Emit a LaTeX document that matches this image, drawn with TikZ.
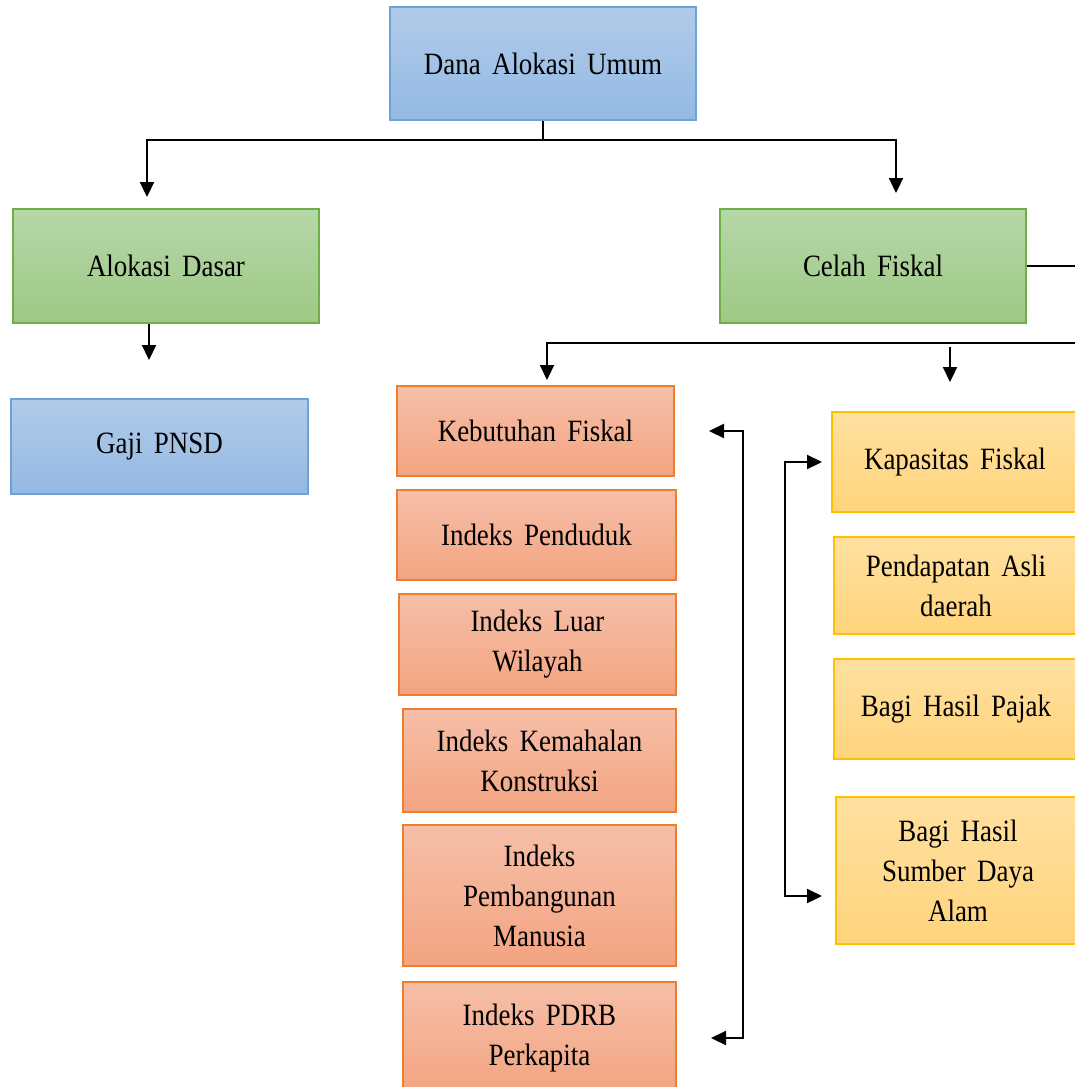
\documentclass[tikz,border=0pt]{standalone}
\usepackage{fontspec}
\setmainfont[FakeStretch=0.87]{Liberation Serif}
\usetikzlibrary{arrows.meta}
\definecolor{biruA}{HTML}{B1CBE9}
\definecolor{biruB}{HTML}{94B9E3}
\definecolor{biruG}{HTML}{6FA0D8}
\definecolor{hijauA}{HTML}{B6D7A8}
\definecolor{hijauB}{HTML}{9DC985}
\definecolor{hijauG}{HTML}{72AE48}
\definecolor{oranyeA}{HTML}{F6BFA8}
\definecolor{oranyeB}{HTML}{F3A481}
\definecolor{oranyeG}{HTML}{ED7D31}
\definecolor{kuningA}{HTML}{FFE0A0}
\definecolor{kuningB}{HTML}{FFD47C}
\definecolor{kuningG}{HTML}{FFC000}
\newcommand{\teks}{\fontsize{31}{40}\selectfont\spaceskip=0.36em plus 0.1em}

\begin{document}
\begin{tikzpicture}[x=1pt,y=-1pt,
    kotak/.style = {rectangle, line width=2pt, align=center, font=\teks, inner sep=2pt},
    biru/.style = {kotak, draw=biruG, top color=biruA, bottom color=biruB},
    hijau/.style = {kotak, draw=hijauG, top color=hijauA, bottom color=hijauB},
    oranye/.style = {kotak, draw=oranyeG, top color=oranyeA, bottom color=oranyeB},
    kuning/.style = {kotak, draw=kuningG, top color=kuningA, bottom color=kuningB},
    garis/.style = {line width=2.2pt},
    panah/.style = {garis, -{Triangle[width=14pt,length=15pt]}},
    dua/.style = {garis, {Triangle[width=14pt,length=15pt]}-{Triangle[width=14pt,length=15pt]}}]
  \fill[white] (0,0) rectangle (1075,1087);
  \useasboundingbox (0,0) rectangle (1075,1087);
  \clip (0,0) rectangle (1075,1087);

  % kotak-kotak
  \node[biru, minimum width=306, minimum height=113] (dau) at (543,63.5) {Dana Alokasi Umum};
  \node[hijau, minimum width=306, minimum height=114] (ad) at (166,266) {Alokasi Dasar};
  \node[biru, minimum width=297, minimum height=95] (gaji) at (159.5,446.5) {Gaji PNSD};
  \node[hijau, minimum width=306, minimum height=114] (cf) at (873,266) {Celah Fiskal};

  \node[oranye, minimum width=277, minimum height=90] (kf) at (535.5,431) {Kebutuhan Fiskal};
  \node[oranye, minimum width=279, minimum height=90] (ip) at (536.5,535) {Indeks Penduduk};
  \node[oranye, minimum width=277, minimum height=101] (ilw) at (537.5,644.5) {Indeks Luar\\Wilayah};
  \node[oranye, minimum width=273, minimum height=103] (ikk) at (539.5,760.5) {Indeks Kemahalan\\Konstruksi};
  \node[oranye, minimum width=273, minimum height=141] (ipm) at (539.5,895.5) {Indeks\\Pembangunan\\Manusia};
  \node[oranye, minimum width=273, minimum height=112] (pdrb) at (539.5,1038) {Indeks PDRB\\Perkapita};

  \node[kuning, minimum width=246, minimum height=100] (kap) at (955,462) {Kapasitas Fiskal};
  \node[kuning, minimum width=244, minimum height=97] (pad) at (956,585.5) {Pendapatan Asli\\daerah};
  \node[kuning, minimum width=244, minimum height=100] (bhp) at (956,709) {Bagi Hasil Pajak};
  \node[kuning, minimum width=244, minimum height=147] (bhs) at (958,870.5) {Bagi Hasil\\Sumber Daya\\Alam};

  % titik bantu
  \coordinate (cabang) at (543,140);
  \coordinate (ke-ad) at (147,197);
  \coordinate (ke-cf) at (896,193);
  \coordinate (ke-gaji) at (149,360);
  \coordinate (keluar) at (1075,266);
  \coordinate (cabang2) at (1075,343);
  \coordinate (ke-kf) at (547,380);
  \coordinate (ke-kap) at (950,382);
  \coordinate (rel-kiri) at (743,0);
  \coordinate (rel-kanan) at (785,0);

  % garis penghubung
  \draw[garis] (dau.south) -- (cabang);
  \draw[panah] (cabang) -| (ke-ad);
  \draw[panah] (cabang) -| (ke-cf);
  \draw[panah] (ad.south -| ke-gaji) -- (ke-gaji);
  \draw[garis] (cf.east) -- (keluar);
  \draw[panah] (cabang2) -| (ke-kf);
  \draw[panah] ([yshift=-4pt]ke-kap |- cabang2) -- (ke-kap);
  \draw[dua] ([xshift=34pt]kf.east) -- (kf.east -| rel-kiri) -- (pdrb.east -| rel-kiri) -- ([xshift=34pt]pdrb.east);
  \draw[dua] ([xshift=-9pt]kap.west) -- (kap.west -| rel-kanan) -- ([yshift=-25.5pt]bhs.west -| rel-kanan) -- ([xshift=-13pt,yshift=-25.5pt]bhs.west);
\end{tikzpicture}
\end{document}
